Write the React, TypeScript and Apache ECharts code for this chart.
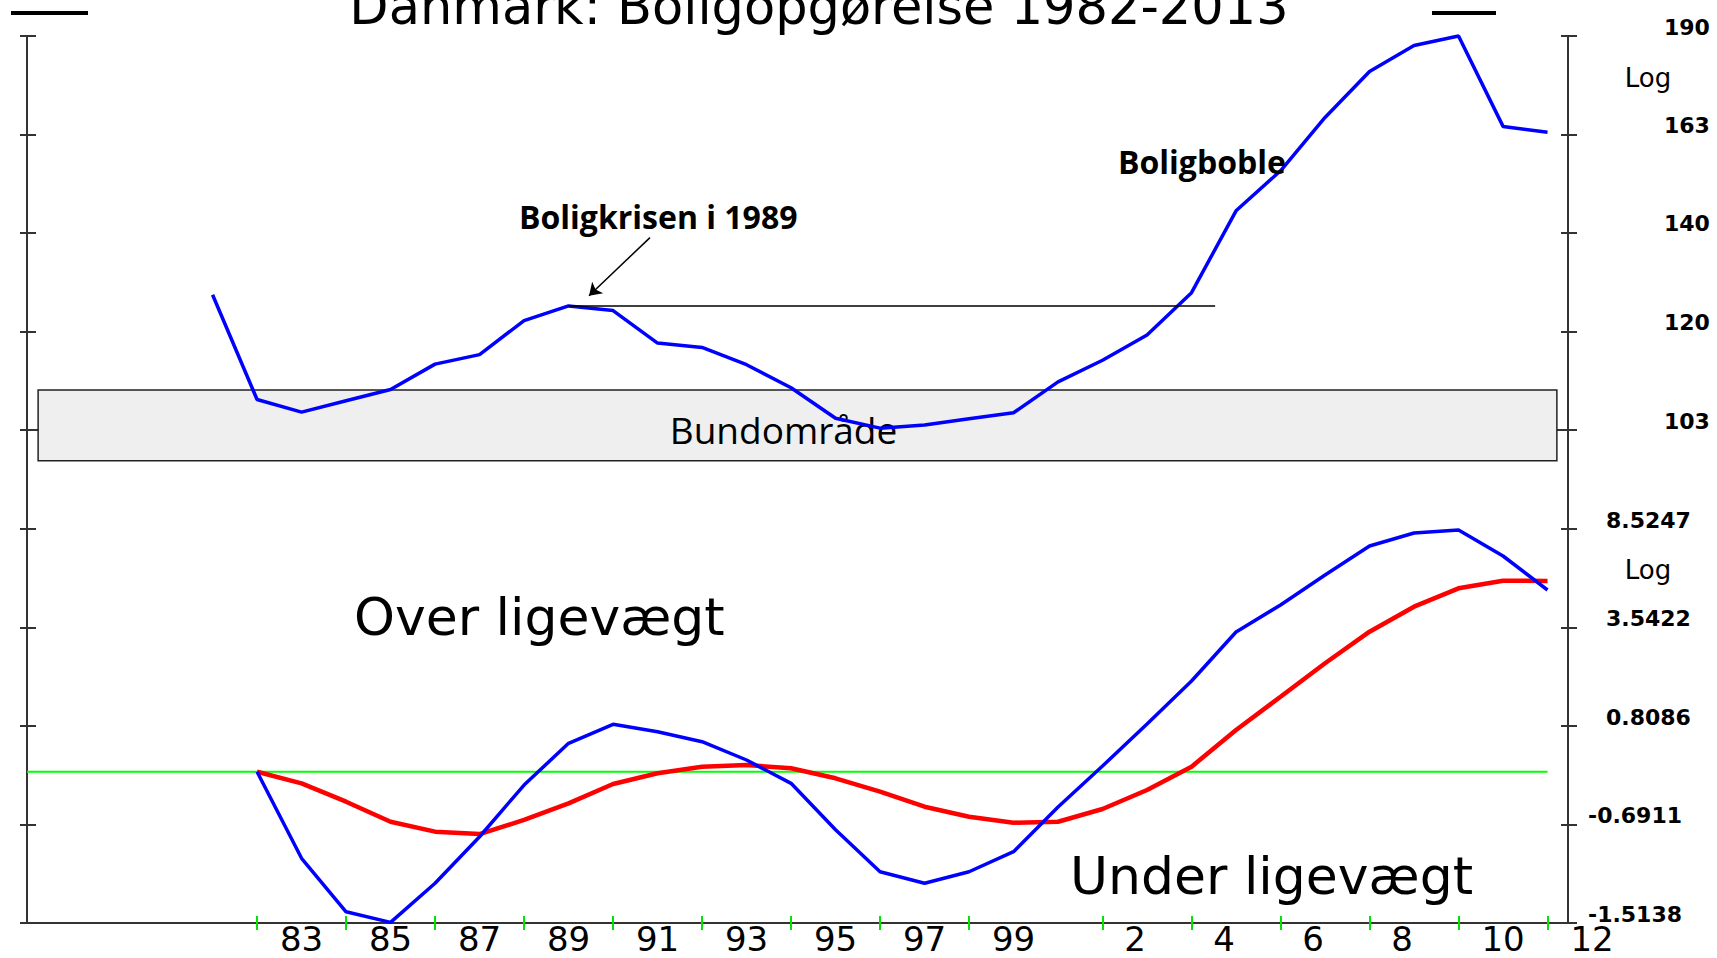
import React, { useEffect, useRef } from "react";
import * as echarts from "echarts";

// ---------- data ----------
const TITLE = "Danmark: Boligopgørelse 1982-2013";

const TOP_YEARS = [
  1981, 1982, 1983, 1984, 1985, 1986, 1987, 1988, 1989, 1990, 1991, 1992, 1993, 1994, 1995, 1996,
  1997, 1998, 1999, 2000, 2001, 2002, 2003, 2004, 2005, 2006, 2007, 2008, 2009, 2010, 2011,
];
const TOP_INDEX = [
  127.1, 108.0, 105.9, 107.8, 109.7, 114.1, 115.8, 122.1, 124.9, 124.0, 117.9, 117.1, 114.0, 110.0,
  104.9, 103.3, 103.8, 104.8, 105.8, 111.0, 114.8, 119.4, 127.5, 144.8, 154.1, 167.4, 179.8, 187.2,
  190.0, 165.1, 163.6,
];

const BOTTOM_YEARS = [
  1982, 1983, 1984, 1985, 1986, 1987, 1988, 1989, 1990, 1991, 1992, 1993, 1994, 1995, 1996, 1997,
  1998, 1999, 2000, 2001, 2002, 2003, 2004, 2005, 2006, 2007, 2008, 2009, 2010, 2011,
];
const BOTTOM_BLUE = [
  0, -1.03, -1.443, -1.51, -1.24, -0.822, -0.195, 0.477, 0.844, 0.696, 0.506, 0.187, -0.171, -0.748,
  -1.147, -1.24, -1.147, -0.969, -0.486, 0.09, 0.85, 1.858, 3.379, 4.434, 5.827, 7.441, 8.261, 8.46,
  6.852, 5.099,
];
const BOTTOM_RED = [
  0, -0.171, -0.419, -0.66, -0.769, -0.794, -0.64, -0.44, -0.181, -0.023, 0.079, 0.106, 0.054,
  -0.098, -0.287, -0.482, -0.602, -0.671, -0.66, -0.51, -0.264, 0.079, 0.729, 1.459, 2.356, 3.39,
  4.362, 5.178, 5.542, 5.528,
];
const EQUILIBRIUM = 0;

const TOP_TICK_LABELS = ["103", "120", "140", "163", "190"];
const BOTTOM_TICK_LABELS = ["-1.5138", "-0.6911", "0.8086", "3.5422", "8.5247"];

const X_TICK_YEARS = [
  1982, 1984, 1986, 1988, 1990, 1992, 1994, 1996, 1998, 2001, 2003, 2005, 2007, 2009, 2011,
];
const X_LABEL_YEARS = [
  1983, 1985, 1987, 1989, 1991, 1993, 1995, 1997, 1999, 2002, 2004, 2006, 2008, 2010, 2012,
];
const X_LABELS = ["83", "85", "87", "89", "91", "93", "95", "97", "99", "2", "4", "6", "8", "10", "12"];

const X_RANGE = [1976.83, 2011.46];
const TOP_RANGE = [95.3, 190];
const BOTTOM_RANGE = [-1.5138, 12.37];

const BUND_YEARS = [1977.08, 2011.21];
const BUND_RANGE = [98.2, 109.6];
const KRISE_YEAR = 1989;
const KRISE_LINE_END = 2003.53;
const ARROW_FROM = [1990.83, 138.9];
const ARROW_TO = [1989.46, 126.9];

// ---------- log-scale helpers (from tick labels) ----------
const topBase = Number(TOP_TICK_LABELS[0]);
const topLnStep =
  Math.log(Number(TOP_TICK_LABELS[TOP_TICK_LABELS.length - 1]) / topBase) /
  (TOP_TICK_LABELS.length - 1);
const topPos = (v: number) => Math.log(v / topBase) / topLnStep;

const botOffset = 1 - Number(BOTTOM_TICK_LABELS[0]);
const botLnStep =
  Math.log(Number(BOTTOM_TICK_LABELS[BOTTOM_TICK_LABELS.length - 1]) + botOffset) /
  (BOTTOM_TICK_LABELS.length - 1);
const botPos = (v: number) => Math.log(v + botOffset) / botLnStep;

const DARK = "#333333";
const GREEN = "#00e600";
const DIGIT_FONT = "DejaVu Sans";
const XLABEL_SIZE = 34;
const XLABEL_MARGIN = 3.5;
const XLABEL_LINE = 24;

function buildOption() {
  const axisLine = { show: true, lineStyle: { color: DARK, width: 2 } };
  const noTick = { show: false };
  const noLabel = { show: false };
  const noSplit = { show: false };

  const xBase = {
    type: "value" as const,
    min: X_RANGE[0],
    max: X_RANGE[1],
    splitLine: noSplit,
  };

  const topTickVals = TOP_TICK_LABELS.map((l) => topPos(Number(l)));
  const botTickVals = BOTTOM_TICK_LABELS.map((l) => botPos(Number(l)));

  const yTop = {
    type: "value" as const,
    gridIndex: 0,
    min: topPos(TOP_RANGE[0]),
    max: topPos(TOP_RANGE[1]),
    splitLine: noSplit,
  };
  const yBot = {
    type: "value" as const,
    gridIndex: 1,
    min: botPos(BOTTOM_RANGE[0]),
    max: botPos(BOTTOM_RANGE[1]),
    splitLine: noSplit,
  };
  const tickStyle = (inside: boolean, vals: number[], len: number) => ({
    show: true,
    inside,
    length: len,
    customValues: vals,
    lineStyle: { color: DARK, width: 2 },
  });

  const nearestIdx = (vals: number[], v: number) => {
    let best = 0;
    vals.forEach((t, i) => {
      if (Math.abs(t - v) < Math.abs(vals[best] - v)) best = i;
    });
    return best;
  };

  const rightLabel = { fontFamily: DIGIT_FONT, fontSize: 22, fontWeight: "bold", color: "#000" };

  return {
    animation: false,
    backgroundColor: "#ffffff",
    grid: [
      { left: 27, top: 36, width: 1541, height: 444 },
      { left: 27, top: 480, width: 1541, height: 443 },
    ],
    xAxis: [
      { ...xBase, gridIndex: 0, position: "bottom", axisLine, axisTick: noTick, axisLabel: noLabel },
      { ...xBase, gridIndex: 0, position: "top", axisLine, axisTick: noTick, axisLabel: noLabel },
      {
        ...xBase,
        gridIndex: 1,
        position: "bottom",
        axisLine,
        axisTick: {
          show: true,
          inside: false,
          length: 7,
          customValues: X_TICK_YEARS,
          lineStyle: { color: GREEN, width: 2 },
        },
        axisLabel: {
          show: true,
          customValues: X_LABEL_YEARS,
          margin: XLABEL_MARGIN,
          formatter: (v: number) => {
            const i = X_LABEL_YEARS.indexOf(Math.round(v));
            const s = X_LABELS[i] ?? "";
            return s.length === 1 ? `{s|${s}}` : `{d|${s}}`;
          },
          rich: {
            s: {
              fontFamily: DIGIT_FONT,
              fontSize: XLABEL_SIZE,
              color: "#000",
              lineHeight: XLABEL_LINE,
              padding: [0, 24, 0, 0],
            },
            d: {
              fontFamily: DIGIT_FONT,
              fontSize: XLABEL_SIZE,
              color: "#000",
              lineHeight: XLABEL_LINE,
            },
          },
        },
      },
      {
        ...xBase,
        gridIndex: 1,
        position: "bottom",
        axisLine: { show: false },
        axisTick: {
          show: true,
          inside: true,
          length: 7,
          customValues: X_TICK_YEARS,
          lineStyle: { color: GREEN, width: 2 },
        },
        axisLabel: noLabel,
      },
    ],
    yAxis: [
      // top panel
      { ...yTop, position: "left", axisLine, axisTick: tickStyle(false, topTickVals, 7), axisLabel: noLabel },
      { ...yTop, position: "left", axisLine: { show: false }, axisTick: tickStyle(true, topTickVals, 9), axisLabel: noLabel },
      {
        ...yTop,
        position: "right",
        axisLine,
        axisTick: tickStyle(false, topTickVals, 9),
        axisLabel: {
          show: true,
          customValues: topTickVals,
          align: "left",
          margin: 96,
          formatter: (v: number) => `{t|${TOP_TICK_LABELS[nearestIdx(topTickVals, v)]}}`,
          rich: { t: { ...rightLabel, padding: [0, 0, 18, 0] } },
        },
      },
      { ...yTop, position: "right", axisLine: { show: false }, axisTick: tickStyle(true, topTickVals, 7), axisLabel: noLabel },
      // bottom panel
      { ...yBot, position: "left", axisLine, axisTick: tickStyle(false, botTickVals, 7), axisLabel: noLabel },
      { ...yBot, position: "left", axisLine: { show: false }, axisTick: tickStyle(true, botTickVals, 9), axisLabel: noLabel },
      {
        ...yBot,
        position: "right",
        axisLine,
        axisTick: tickStyle(false, botTickVals, 9),
        axisLabel: {
          show: true,
          customValues: botTickVals,
          align: "left",
          margin: 20,
          formatter: (v: number) => {
            const s = BOTTOM_TICK_LABELS[nearestIdx(botTickVals, v)];
            return s.startsWith("-") ? `{n|${s}}` : `{p|${s}}`;
          },
          rich: {
            n: { ...rightLabel, padding: [0, 0, 18, 0] },
            p: { ...rightLabel, padding: [0, 0, 18, 18] },
          },
        },
      },
      { ...yBot, position: "right", axisLine: { show: false }, axisTick: tickStyle(true, botTickVals, 7), axisLabel: noLabel },
    ],
    series: [
      {
        name: "Boligindeks",
        type: "line",
        xAxisIndex: 0,
        yAxisIndex: 0,
        data: TOP_YEARS.map((y, i) => [y, topPos(TOP_INDEX[i])]),
        symbol: "none",
        clip: false,
        lineStyle: { color: "#0000ff", width: 3.5 },
        z: 3,
        markArea: {
          silent: true,
          itemStyle: { color: "#efefef", borderColor: "#222", borderWidth: 1.5 },
          label: {
            show: true,
            position: "inside",
            formatter: "{b}",
            fontFamily: "Open Sans",
            fontSize: 37,
            color: "#000",
            offset: [-14, 4],
          },
          data: [
            [
              { name: "Bundområde", xAxis: BUND_YEARS[0], yAxis: topPos(BUND_RANGE[0]) },
              { xAxis: BUND_YEARS[1], yAxis: topPos(BUND_RANGE[1]) },
            ],
          ],
        },
        markLine: {
          silent: true,
          animation: false,
          label: { show: false },
          lineStyle: { color: "#000", width: 1.5, type: "solid" },
          symbolSize: 12,
          data: [
            [
              {
                coord: [KRISE_YEAR, topPos(TOP_INDEX[TOP_YEARS.indexOf(KRISE_YEAR)])],
                symbol: "none",
              },
              {
                coord: [KRISE_LINE_END, topPos(TOP_INDEX[TOP_YEARS.indexOf(KRISE_YEAR)])],
                symbol: "none",
              },
            ],
            [
              { coord: [ARROW_FROM[0], topPos(ARROW_FROM[1])], symbol: "none" },
              { coord: [ARROW_TO[0], topPos(ARROW_TO[1])], symbol: "arrow" },
            ],
          ],
        },
      },
      {
        name: "Ligevægt",
        type: "line",
        xAxisIndex: 2,
        yAxisIndex: 4,
        data: [
          [X_RANGE[0], botPos(EQUILIBRIUM)],
          [BOTTOM_YEARS[BOTTOM_YEARS.length - 1], botPos(EQUILIBRIUM)],
        ],
        symbol: "none",
        lineStyle: { color: "#00ff00", width: 2 },
        z: 2,
      },
      {
        name: "Trend",
        type: "line",
        xAxisIndex: 2,
        yAxisIndex: 4,
        data: BOTTOM_YEARS.map((y, i) => [y, botPos(BOTTOM_RED[i])]),
        symbol: "none",
        clip: false,
        lineStyle: { color: "#ff0000", width: 4.5 },
        z: 3,
      },
      {
        name: "Afvigelse",
        type: "line",
        xAxisIndex: 2,
        yAxisIndex: 4,
        data: BOTTOM_YEARS.map((y, i) => [y, botPos(BOTTOM_BLUE[i])]),
        symbol: "none",
        clip: false,
        lineStyle: { color: "#0000ff", width: 3.5 },
        z: 4,
      },
    ],
  };
}

function baseGraphics() {
  const txt = (
    text: string,
    x: number,
    y: number,
    fontSize: number,
    fontFamily: string,
    fontWeight: string | number = "normal",
    align = "left"
  ) => ({
    type: "text",
    x,
    y,
    z: 100,
    style: {
      text,
      fill: "#000",
      fontSize,
      fontFamily,
      fontWeight,
      align,
      verticalAlign: "middle",
    },
  });
  return [
    txt(TITLE, 819, 6, 51, DIGIT_FONT, "normal", "center"),
    { type: "line", shape: { x1: 11, y1: 13, x2: 88, y2: 13 }, style: { stroke: "#000", lineWidth: 4 } },
    { type: "line", shape: { x1: 1432, y1: 13, x2: 1496, y2: 13 }, style: { stroke: "#000", lineWidth: 4 } },
    txt("Boligkrisen i 1989", 519, 216, 32, "Open Sans", 700),
    txt("Boligboble", 1118, 161, 32, "Open Sans", 700),
    txt("Over ligevægt", 354, 617, 52, DIGIT_FONT),
    txt("Under ligevægt", 1070, 876, 52, DIGIT_FONT),
    txt("Log", 1648, 78, 26, DIGIT_FONT, "normal", "center"),
    txt("Log", 1648, 570, 26, DIGIT_FONT, "normal", "center"),
  ];
}

export default function App() {
  const ref = useRef<HTMLDivElement>(null);
  useEffect(() => {
    if (!ref.current) return;
    const chart = echarts.init(ref.current, null, { renderer: "svg" });
    chart.setOption(buildOption() as any);
    // last x label lies beyond the axis end: place it via the axis scale
    const lastYear = X_LABEL_YEARS[X_LABEL_YEARS.length - 1];
    const px = chart.convertToPixel({ xAxisIndex: 2 } as any, lastYear) as number;
    const py = chart.convertToPixel({ yAxisIndex: 4 } as any, botPos(BOTTOM_RANGE[0])) as number;
    const extra: any[] = [];
    if (lastYear > X_RANGE[1]) {
      extra.push({
        type: "text",
        x: px,
        y: py + XLABEL_MARGIN + XLABEL_LINE / 2,
        z: 100,
        style: {
          text: X_LABELS[X_LABELS.length - 1],
          fill: "#000",
          fontSize: XLABEL_SIZE,
          fontFamily: DIGIT_FONT,
          align: "center",
          verticalAlign: "middle",
        },
      });
    }
    chart.setOption({ graphic: [...baseGraphics(), ...extra] } as any);
    return () => chart.dispose();
  }, []);
  return (
    <div
      ref={ref}
      style={{ position: "absolute", left: 0, top: 0, width: 1717, height: 958, background: "#fff" }}
    />
  );
}
